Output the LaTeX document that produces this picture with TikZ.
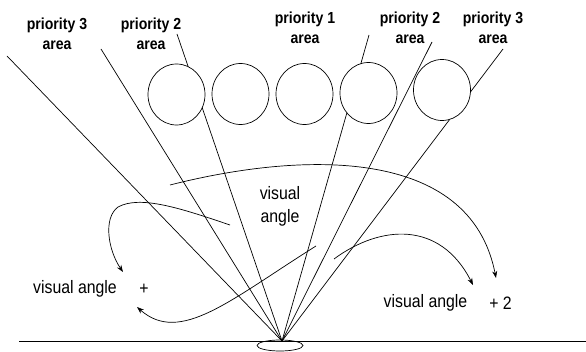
\documentclass[tikz,border=0pt]{standalone}
\usepackage{fontspec}
\newfontfamily\labfont[FakeStretch=0.88]{Liberation Sans}
\usetikzlibrary{arrows.meta,shapes.geometric}
\begin{document}
\begin{tikzpicture}[x=1pt,y=-1pt,
  ray/.style={line width=0.7pt},
  eyecircle/.style={draw,line width=0.7pt,fill=white,ellipse,minimum width=57pt,minimum height=61pt,inner sep=0pt},
  plabel/.style={font=\labfont\fontsize{16}{20}\selectfont\bfseries,align=center,inner sep=0pt},
  vlabel/.style={font=\labfont\fontsize{18}{23}\selectfont,align=center,inner sep=0pt},
  curvearrow/.style={line width=0.7pt,-{Stealth[length=7pt,width=5pt]}},
  curveplain/.style={line width=0.7pt}]
\useasboundingbox (0,0) rectangle (586,352);
\fill[white] (0,0) rectangle (586,352);

% eye point and ray ends
\coordinate (E) at (282,341);
\coordinate (r1) at (7,56);
\coordinate (r2) at (101,49);
\coordinate (r3) at (177,34);
\coordinate (r4) at (369,35);
\coordinate (r5) at (432,42);
\coordinate (r6) at (503,49);
\coordinate (g1) at (19,341);
\coordinate (g2) at (586,341);

\foreach \r in {r1,r2,r3,r4,r5,r6} \draw[ray] (\r) -- (E);

% circles
\node[eyecircle] (c1) at (176.5,94.5) {};
\node[eyecircle] (c2) at (240.5,94) {};
\node[eyecircle] (c3) at (304.5,94) {};
\node[eyecircle] (c4) at (368.5,93) {};
\node[eyecircle] (c5) at (442,90) {};

% ground and eye
\draw[ray] (g1) -- (g2);
\node[draw,ellipse,line width=0.7pt,minimum width=46pt,minimum height=11pt,inner sep=0pt] (eye) at (280,345.5) {};

% labels
\node[plabel] (p3l) at (57,33.5) {priority 3\\area};
\node[plabel] (p2l) at (151,33.5) {priority 2\\area};
\node[plabel] (p1) at (305,27.5) {priority 1\\area};
\node[plabel] (p2r) at (410,27.5) {priority 2\\area};
\node[plabel] (p3r) at (493,27.5) {priority 3\\area};

\node[vlabel] (va) at (280,206.5) {visual\\angle};
\node[vlabel] (vl) at (75,289) {visual angle};
\node[vlabel] (pl) at (144,289) {+};
\node[vlabel] (vr) at (425.5,303) {visual angle};
\node[vlabel] (pr) at (500.5,303) {+ 2};

% curved arrows
\coordinate (a1) at (170,185);
\coordinate (a2) at (496,278);
\draw[curvearrow] (a1) .. controls (300,152) and (470,145) .. (a2);

\coordinate (b1) at (230,225);
\coordinate (bm) at (118,207);
\coordinate (b2) at (123,272);
\draw[curvearrow] (b1) .. controls (180,208) and (140,195) .. (bm) .. controls (103,218) and (108,250) .. (b2);

\coordinate (c1s) at (316,246);
\coordinate (c2e) at (137,307);
\draw[curvearrow] (c1s) .. controls (230,300) and (180,345) .. (c2e);

\coordinate (d1) at (334,259);
\coordinate (d2) at (473,285);
\draw[curvearrow] (d1) .. controls (380,225) and (440,220) .. (d2);
\end{tikzpicture}
\end{document}
